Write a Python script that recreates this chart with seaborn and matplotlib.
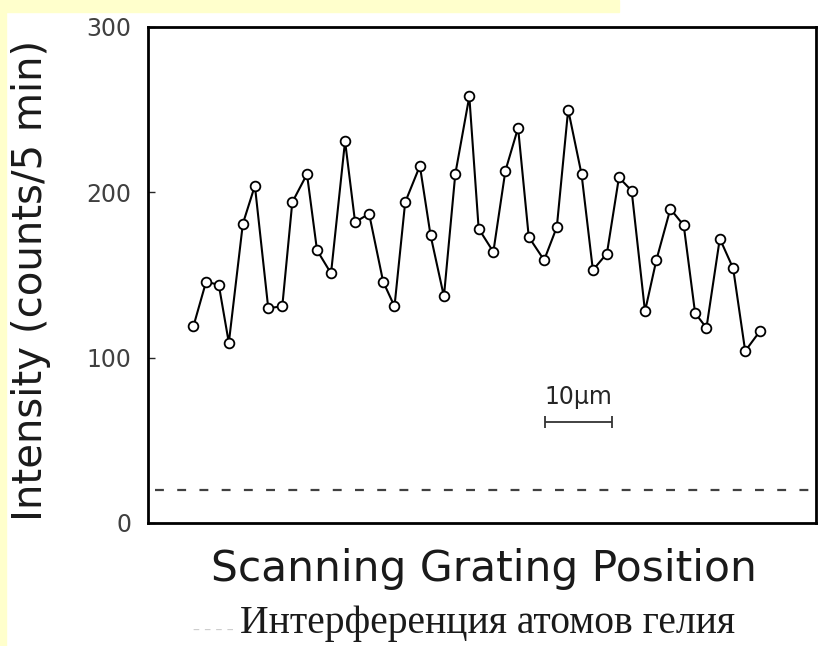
import matplotlib
matplotlib.use("Agg")
import matplotlib.pyplot as plt
from matplotlib.patches import Rectangle
import seaborn as sns
import pandas as pd

# positions along the grating scan (µm) and measured intensity (counts / 5 min)
position_um = [6.8, 8.7, 10.6, 12.1, 14.2, 16.0, 18.0, 20.1, 21.6, 23.8,
               25.3, 27.4, 29.5, 31.0, 33.1, 35.2, 36.9, 38.5, 40.7, 42.3,
               44.3, 46.0, 48.1, 49.5, 51.7, 53.5, 55.4, 57.0, 59.3, 61.2,
               62.9, 64.9, 66.6, 68.7, 70.5, 72.4, 74.4, 76.1, 78.2, 80.2,
               81.9, 83.6, 85.6, 87.6, 89.4, 91.6]
intensity = [119, 146, 144, 109, 181, 204, 130, 131, 194, 211,
             165, 151, 231, 182, 187, 146, 131, 194, 216, 174,
             137, 211, 258, 178, 164, 213, 239, 173, 159, 179,
             250, 211, 153, 163, 209, 201, 128, 159, 190, 180,
             127, 118, 172, 154, 104, 116]

background_level = 20
scale_bar = [59.5, 69.5]
scale_bar_y = 61
scale_label = "10\u00b5m"

df = pd.DataFrame({"pos": position_um, "counts": intensity})

sns.set_style("ticks")
fig = plt.figure(figsize=(8.19, 6.46), dpi=100)
fig.patch.set_facecolor("white")
ax = fig.add_axes([148 / 819, 1 - 523 / 646, (816 - 148) / 819, (523 - 27) / 646])

# scanned-slide yellow margins
fig.patches.append(Rectangle((0, 1 - 12 / 646), 619 / 819, 12 / 646,
                             transform=fig.transFigure, color="#ffffcc", zorder=0))
fig.patches.append(Rectangle((0, 0), 6 / 819, 1, transform=fig.transFigure,
                             color="#ffffcc", zorder=0))

sns.lineplot(data=df, x="pos", y="counts", ax=ax, color="black", lw=1.5,
             marker="o", markersize=7, markerfacecolor="white",
             markeredgecolor="black", markeredgewidth=1.3)

ax.axhline(background_level, xmin=0.01, xmax=1, color="0.25", lw=1.6,
           linestyle=(0, (4, 6)))

# scale bar
ax.errorbar([sum(scale_bar) / 2], [scale_bar_y], xerr=[(scale_bar[1] - scale_bar[0]) / 2],
            fmt="none", ecolor="0.2", elinewidth=1.3, capsize=4, capthick=1.3)
ax.text(sum(scale_bar) / 2, scale_bar_y + 8, scale_label, ha="center", va="bottom",
        fontsize=17, color="0.15")

ax.set_xlim(0, 100)
ax.set_ylim(0, 300)
ax.set_yticks([0, 100, 200, 300])
ax.set_xticks([])
ax.tick_params(axis="y", direction="in", length=5, width=1, pad=12,
               labelsize=17, labelcolor="0.25")
for s in ax.spines.values():
    s.set_visible(True)
    s.set_linewidth(2)
    s.set_color("black")

ax.set_ylabel("Intensity (counts/5 min)", fontsize=29, color="0.1")
ax.yaxis.set_label_coords(-0.145, 0.49)
ax.set_xlabel("Scanning Grating Position", fontsize=30.5, color="0.1")
ax.xaxis.set_label_coords(0.503, -0.05)

fig.text(0.285, 0.018, "\u2013 \u2013 \u2013 \u2013", fontsize=10, color="0.8", ha="right")
fig.text(0.595, 0.006, "Интерференция атомов гелия", fontsize=28.5,
         family="Liberation Serif", ha="center", va="bottom", color="0.1")

fig.savefig("out.png", dpi=100, facecolor=fig.get_facecolor())
